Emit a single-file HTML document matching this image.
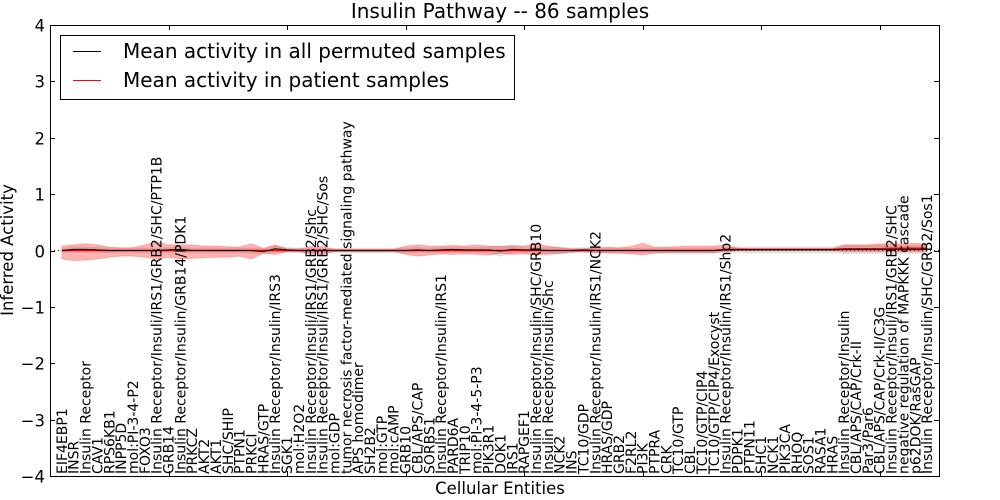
<!DOCTYPE html>
<html><head><meta charset="utf-8"><style>
body{margin:0;background:#fff;}
svg{display:block;font-family:"DejaVu Sans","Liberation Sans",sans-serif;}
</style></head><body>
<svg id="chart" width="1000" height="500" viewBox="0 0 1000 500">
<rect x="0" y="0" width="1000" height="500" fill="#fff"/>
<g id="bands"></g>
<g id="lines"></g>
<g id="xlabels"></g>
<g id="axes"></g>
<text x="500" y="18" text-anchor="middle" font-size="20">Insulin Pathway -- 86 samples</text>
<text x="500" y="494" text-anchor="middle" font-size="16.5">Cellular Entities</text>
<text transform="translate(13,250) rotate(-90)" text-anchor="middle" font-size="16.5">Inferred Activity</text>
<g>
<rect x="60.5" y="35.5" width="454" height="64" fill="#fff" stroke="#000" stroke-width="1"/>
<line x1="73" y1="51.5" x2="101" y2="51.5" stroke="#000" stroke-width="1"/>
<text x="123" y="58" font-size="20">Mean activity in all permuted samples</text>
<line x1="73" y1="80.5" x2="101" y2="80.5" stroke="#f00" stroke-width="1"/>
<text x="123" y="87" font-size="20">Mean activity in patient samples</text>
</g>
</svg>
<script>
const categories = ["EIF4EBP1","INSR","Insulin Receptor","CAV1","RPS6KB1","INPP5D","mol:PI-3-4-P2","FOXO3","Insulin Receptor/Insuli/IRS1/GRB2/SHC/PTP1B","GRB14","Insulin Receptor/Insulin/GRB14/PDK1","PRKCZ","AKT2","AKT1","SHC/SHIP","PTPN1","PRKCI","HRAS/GTP","Insulin Receptor/Insulin/IRS3","SGK1","mol:H2O2","Insulin Receptor/Insuli/IRS1/GRB2/Shc","Insulin Receptor/Insuli/IRS1/GRB2/SHC/Sos","mol:GDP","tumor necrosis factor-mediated signaling pathway","APS homodimer","SH2B2","mol:GTP","mol:cAMP","GRB10","CBL/APS/CAP","SORBS1","Insulin Receptor/Insulin/IRS1","PARD6A","TRIP10","mol:PI-3-4-5-P3","PIK3R1","DOK1","IRS1","RAPGEF1","Insulin Receptor/Insulin/SHC/GRB10","Insulin Receptor/Insulin/Shc","NCK2","INS","TC10/GDP","Insulin Receptor/Insulin/IRS1/NCK2","HRAS/GDP","GRB2","F2RL2","PI3K","PTPRA","CRK","TC10/GTP","CBL","TC10/GTP/CIP4","TC10/GTP/CIP4/Exocyst","Insulin Receptor/Insulin/IRS1/Shp2","PDPK1","PTPN11","SHC1","NCK1","PIK3CA","RHOQ","SOS1","RASA1","HRAS","Insulin Receptor/Insulin","CBL/APS/CAP/Crk-II","Par3/Par6","CBL/APS/CAP/Crk-II/C3G","Insulin Receptor/Insuli/IRS1/GRB2/SHC","negative regulation of MAPKKK cascade","p62DOK/RasGAP","Insulin Receptor/Insulin/SHC/GRB2/Sos1"];
const patientMean = [0,0,0,0,0,0,0,0,0,0,0,0,0,0,0,0,0,0,0,0,0,0,0,0,0,0,0,0,0,0,0,0,0,0,0,0,0,0,0,0,0,0,0,0,0,0,0,0,0,0,0,0,0,0,0,0,0.02,0.02,0.02,0.02,0.02,0.02,0.02,0.02,0.02,0.02,0.03,0.03,0.03,0.03,0.04,0.04,0.04,0.04];
const patientHi = [0.08,0.1,0.12,0.1,0.06,0.05,0.05,0.1,0.15,0.1,0.1,0.1,0.08,0.08,0.07,0.06,0.12,0.04,0.1,0.03,0.03,0.07,0.07,0.02,0.02,0.02,0.02,0.02,0.02,0.08,0.1,0.08,0.08,0.09,0.08,0.1,0.08,0.07,0.09,0.08,0.12,0.08,0.05,0.03,0.03,0.05,0.06,0.05,0.07,0.13,0.06,0.06,0.07,0.08,0.08,0.08,0.1,0.04,0.03,0.03,0.03,0.03,0.03,0.03,0.03,0.03,0.1,0.1,0.1,0.12,0.12,0.12,0.13,0.12];
const patientLo = [-0.15,-0.18,-0.17,-0.15,-0.12,-0.1,-0.1,-0.12,-0.15,-0.12,-0.15,-0.14,-0.13,-0.12,-0.12,-0.1,-0.15,-0.05,-0.07,-0.02,-0.02,-0.06,-0.07,-0.02,-0.02,-0.02,-0.02,-0.02,-0.02,-0.07,-0.1,-0.08,-0.06,-0.07,-0.06,-0.07,-0.08,-0.05,-0.07,-0.06,-0.08,-0.07,-0.05,-0.03,-0.02,-0.04,-0.04,-0.05,-0.06,-0.08,-0.05,-0.04,-0.04,-0.04,-0.04,-0.04,-0.02,0,0,0,0,0,0,0,0,0,-0.02,-0.02,-0.02,-0.02,-0.02,-0.02,-0.02,-0.02];
const permutedMean = [0,0.02,0.02,0.01,0,0,0,0,0,0.01,0.02,0,0,0,0,0,0,-0.02,0.03,0.01,0,0,0,0,0,0,0,0,0,0,0.01,0,0.01,0.02,0.01,0.01,0.01,-0.01,0.02,0.01,0.01,0,0,0,0.01,0,0,0,0,0,0,0,0,0,0,0,0.01,0.01,0.01,0.01,0.01,0.01,0.01,0.01,0.01,0.01,0.02,0.02,0.02,0.02,0.02,0.02,0.02,0.02];
const permutedSpread = [0.05,0.05,0.05,0.05,0.05,0.05,0.05,0.05,0.05,0.05,0.05,0.05,0.05,0.05,0.05,0.05,0.05,0.05,0.06,0.05,0.05,0.05,0.05,0.05,0.05,0.05,0.05,0.05,0.05,0.05,0.05,0.05,0.05,0.05,0.05,0.05,0.06,0.1,0.06,0.05,0.05,0.06,0.07,0.05,0.05,0.05,0.05,0.05,0.05,0.05,0.05,0.05,0.05,0.05,0.05,0.05,0.05,0.06,0.06,0.06,0.06,0.06,0.06,0.06,0.06,0.06,0.08,0.08,0.08,0.08,0.08,0.08,0.08,0.08];
const yTicks = [-4,-3,-2,-1,0,1,2,3,4];

const L=50,R=939,T=25,B=476,XMAX=categories.length+1;
const xS = i => L + (i+1)*(R-L)/XMAX;
const yS = v => T + (4 - v)*(B-T)/8;
const NS="http://www.w3.org/2000/svg";
function mk(tag, parent, attrs){const e=document.createElementNS(NS,tag);for(const k in attrs)e.setAttribute(k,attrs[k]);parent.appendChild(e);return e;}
const bands=document.getElementById('bands'),lines=document.getElementById('lines'),xl=document.getElementById('xlabels'),axes=document.getElementById('axes');
function areaPath(hi,lo){let d='';hi.forEach((v,i)=>{d+=(i?'L':'M')+xS(i).toFixed(1)+' '+yS(v).toFixed(1);});for(let i=lo.length-1;i>=0;i--)d+='L'+xS(i).toFixed(1)+' '+yS(lo[i]).toFixed(1);return d+'Z';}
const gHi=permutedMean.map((m,i)=>m+permutedSpread[i]),gLo=permutedMean.map((m,i)=>m-permutedSpread[i]);
let g=mk('path',bands,{d:areaPath(gHi,gLo),fill:'#bbb','fill-opacity':'0.45',stroke:'none'});


let r=mk('path',bands,{d:areaPath(patientHi,patientLo),fill:'#f00','fill-opacity':'0.3',stroke:'#f00','stroke-opacity':'0.2'});


let z=mk('line',lines,{x1:L,x2:R,y1:yS(0),y2:yS(0),stroke:'#000','stroke-dasharray':'1,3'});


const lp=arr=>arr.map((v,i)=>xS(i).toFixed(1)+','+yS(v).toFixed(1)).join(' ');
let pl=mk('polyline',lines,{points:lp(patientMean),fill:'none',stroke:'#f00','stroke-width':'1.5'});


let bl=mk('polyline',lines,{points:lp(permutedMean),fill:'none',stroke:'#000','stroke-width':'1'});


categories.forEach((c,i)=>{
  const t=mk('text',xl,{transform:`translate(${(xS(i)+5).toFixed(1)},474) rotate(-90)`,'font-size':'14'});
  t.textContent=c;
  
  
});
let fr=mk('rect',axes,{x:L+0.5,y:T+0.5,width:R-L,height:B-T,fill:'none',stroke:'#000','stroke-width':'1'});


yTicks.forEach(v=>{
  const y=Math.round(yS(v))+0.5;
  let a=mk('line',axes,{x1:L,x2:L+5,y1:y,y2:y,stroke:'#000'});
  
  
  let b=mk('line',axes,{x1:R-5,x2:R,y1:y,y2:y,stroke:'#000'});
  
  
  let t=mk('text',axes,{x:L-5,y:y+6,'text-anchor':'end','font-size':'16.5'});
  t.textContent=v===0?'0':(v<0?'\u2212'+(-v):String(v));
  
  
});
for(let k=10;k<XMAX;k+=10){
  const x=Math.round(L+k*(R-L)/XMAX)+0.5;
  let a=mk('line',axes,{x1:x,x2:x,y1:T,y2:T+5,stroke:'#000'});
  
  
  let b=mk('line',axes,{x1:x,x2:x,y1:B-5,y2:B,stroke:'#000'});
  
  
}
</script>
</body></html>
